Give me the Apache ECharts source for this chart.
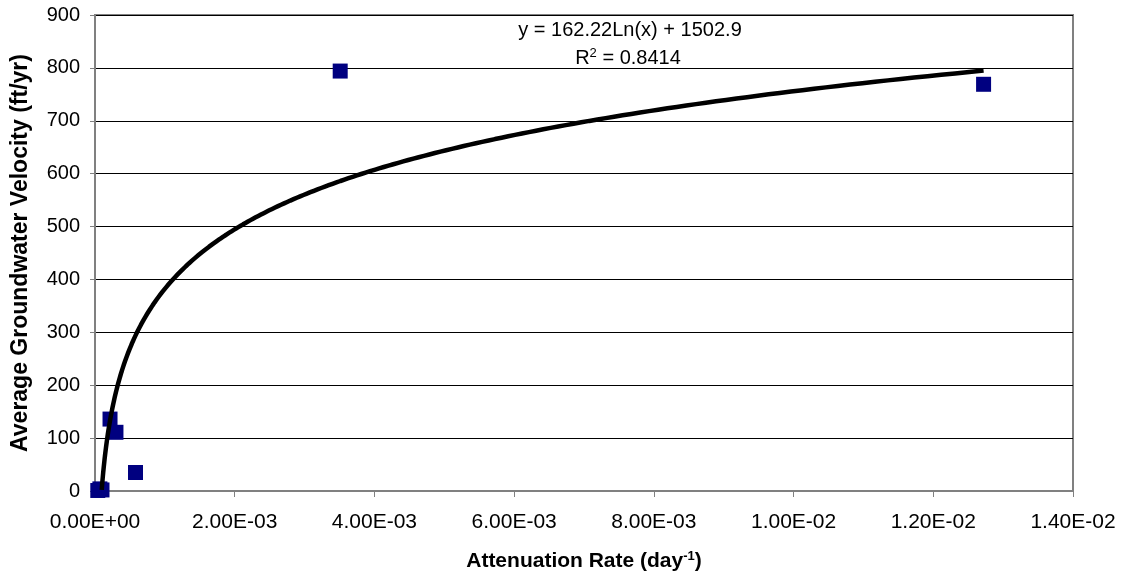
<!DOCTYPE html>
<html>
<head>
<meta charset="utf-8">
<script src="https://cdn.jsdelivr.net/npm/echarts@6/dist/echarts.min.js"></script>
<style>html,body{margin:0;padding:0;background:#fff;}#c{width:1127px;height:581px;}</style>
</head>
<body>
<div id="c"></div>
<script>
// Data
const attenuationRate = [0.00004, 0.00007, 0.00010, 0.000215, 0.00030, 0.00058, 0.00351, 0.01272];
const groundwaterVelocity = [1, 4, 2, 136, 111, 35, 794, 769];
// Excel logarithmic trendline shown on the chart: y = a*Ln(x) + b
const trendA = 162.22;
const trendB = 1502.9;
const rSquared = '0.8414';
const trendStartX = 0.000096;
const trendEndX = 0.01272;
const xTicks = [0, 0.002, 0.004, 0.006, 0.008, 0.010, 0.012, 0.014];
const yTicks = [0, 100, 200, 300, 400, 500, 600, 700, 800, 900];

const scatterData = attenuationRate.map((x, i) => [x, groundwaterVelocity[i]]);
const trendData = [];
const nSamples = 300;
for (let i = 0; i <= nSamples; i++) {
  const x = Math.exp(Math.log(trendStartX) + (Math.log(trendEndX) - Math.log(trendStartX)) * i / nSamples);
  trendData.push([x, trendA * Math.log(x) + trendB]);
}

function fmtExp(v) {
  let s = Number(v).toExponential(2).toUpperCase();
  return s.replace(/E([+-])(\d)$/, 'E$10$2');
}

const chart = echarts.init(document.getElementById('c'), null, {renderer: 'canvas'});
const font = '"Liberation Sans", Arial, sans-serif';
chart.setOption({
  animation: false,
  backgroundColor: '#ffffff',
  grid: {left: 95, right: 54, top: 15, bottom: 90, show: true, borderColor: '#808080', borderWidth: 2, backgroundColor: 'transparent'},
  xAxis: {
    type: 'value', min: xTicks[0], max: xTicks[xTicks.length - 1], interval: 0.002,
    axisLine: {show: true, lineStyle: {color: '#808080', width: 2}},
    axisTick: {show: true, length: 6, lineStyle: {color: '#808080', width: 1}},
    splitLine: {show: false},
    axisLabel: {formatter: fmtExp, color: '#000', fontFamily: font, fontSize: 21, margin: 21},
    name: '{t|Attenuation Rate (day}{s|-1}{t|)}',
    nameLocation: 'middle', nameGap: 59,
    nameTextStyle: {rich: {
      t: {fontFamily: font, fontSize: 21, fontWeight: 'bold', color: '#000'},
      s: {fontFamily: font, fontSize: 13, fontWeight: 'bold', color: '#000', verticalAlign: 'top', padding: [0, 0, 10, 0]}
    }}
  },
  yAxis: {
    type: 'value', min: yTicks[0], max: yTicks[yTicks.length - 1], interval: 100,
    axisLine: {show: true, lineStyle: {color: '#808080', width: 2}},
    axisTick: {show: true, length: 5, lineStyle: {color: '#808080', width: 1}},
    splitLine: {show: true, lineStyle: {color: '#000000', width: 1}},
    axisLabel: {color: '#000', fontFamily: font, fontSize: 20, margin: 15},
    name: 'Average Groundwater Velocity (ft/yr)',
    nameLocation: 'middle', nameGap: 63,
    nameTextStyle: {fontFamily: font, fontSize: 23, fontWeight: 'bold', color: '#000'}
  },
  series: [
    {
      type: 'scatter', data: scatterData, symbol: 'rect', symbolSize: 15,
      itemStyle: {color: '#000080', opacity: 1}, z: 2
    },
    {
      type: 'line', data: trendData, showSymbol: false, symbol: 'none', smooth: false,
      lineStyle: {color: '#000000', width: 4.5}, z: 3, clip: true
    }
  ],
  graphic: [
    {type: 'text', x: 630, y: 30, style: {text: 'y = ' + trendA.toFixed(2) + 'Ln(x) + ' + trendB.toFixed(1), fontFamily: font, fontSize: 20, fill: '#000', align: 'center', verticalAlign: 'middle'}},
    {type: 'text', x: 628, y: 58, style: {text: 'R{s|2} = ' + rSquared, fontFamily: font, fontSize: 20, fill: '#000', align: 'center', verticalAlign: 'middle', rich: {s: {fontFamily: font, fontSize: 13, fill: '#000', verticalAlign: 'top', padding: [0, 0, 10, 0]}}}}
  ]
});
</script>
</body>
</html>
